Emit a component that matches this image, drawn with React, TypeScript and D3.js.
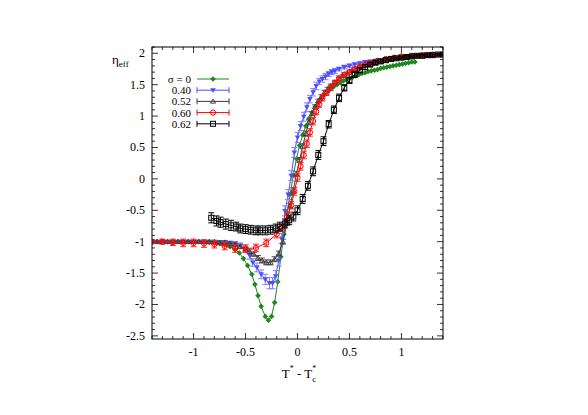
import React from "react";
import * as d3 from "d3";

// sigma = 0 (no error bars)
const greenX = [-1.4, -1.35, -1.3, -1.25, -1.2, -1.15, -1.1, -1.05, -1.0, -0.95, -0.9, -0.85, -0.8, -0.75, -0.7, -0.65, -0.6, -0.56, -0.52, -0.48, -0.44, -0.41, -0.38, -0.35, -0.31, -0.28, -0.25, -0.22, -0.19, -0.16, -0.13, -0.1, -0.07, -0.04, -0.01, 0.02, 0.05, 0.08, 0.11, 0.14, 0.17, 0.2, 0.23, 0.26, 0.29, 0.32, 0.35, 0.38, 0.41, 0.44, 0.47, 0.5, 0.53, 0.56, 0.59, 0.62, 0.65, 0.68, 0.71, 0.74, 0.77, 0.8, 0.83, 0.86, 0.89, 0.92, 0.95, 0.98, 1.01, 1.04, 1.07, 1.1, 1.13];
const greenY = [-1.0, -1.0, -1.0, -1.0, -1.0, -1.0, -1.0, -1.0, -1.0, -1.0, -1.01, -1.01, -1.02, -1.03, -1.05, -1.08, -1.12, -1.18, -1.27, -1.38, -1.52, -1.68, -1.86, -2.03, -2.19, -2.25, -2.19, -1.97, -1.64, -1.24, -0.88, -0.55, -0.24, 0.06, 0.32, 0.53, 0.7, 0.84, 0.96, 1.06, 1.15, 1.22, 1.28, 1.34, 1.39, 1.43, 1.47, 1.5, 1.53, 1.56, 1.58, 1.6, 1.62, 1.64, 1.66, 1.68, 1.69, 1.71, 1.72, 1.73, 1.74, 1.76, 1.77, 1.78, 1.79, 1.8, 1.81, 1.82, 1.83, 1.84, 1.85, 1.86, 1.86];

// sigma = 0.40
const blueX = [-1.4, -1.35, -1.3, -1.25, -1.2, -1.15, -1.1, -1.05, -1.0, -0.95, -0.9, -0.85, -0.8, -0.75, -0.7, -0.65, -0.6, -0.55, -0.5, -0.46, -0.43, -0.39, -0.35, -0.31, -0.27, -0.24, -0.21, -0.18, -0.15, -0.12, -0.09, -0.06, -0.03, 0.0, 0.03, 0.06, 0.09, 0.12, 0.15, 0.18, 0.21, 0.24, 0.27, 0.3, 0.33, 0.36, 0.4, 0.45, 0.5, 0.55, 0.6, 0.65, 0.7, 0.75, 0.8, 0.85, 0.9, 0.95, 1.0, 1.05, 1.1, 1.15, 1.2, 1.25, 1.3, 1.35, 1.4];
const blueY = [-1.0, -1.0, -1.0, -1.0, -1.0, -1.0, -1.0, -1.0, -1.0, -1.0, -1.0, -1.0, -1.0, -1.01, -1.01, -1.02, -1.03, -1.06, -1.12, -1.22, -1.33, -1.41, -1.52, -1.6, -1.66, -1.66, -1.55, -1.3, -0.95, -0.51, -0.25, 0.05, 0.42, 0.66, 0.84, 0.99, 1.14, 1.27, 1.38, 1.48, 1.55, 1.59, 1.63, 1.67, 1.7, 1.72, 1.75, 1.78, 1.8, 1.82, 1.84, 1.86, 1.87, 1.88, 1.89, 1.9, 1.91, 1.92, 1.93, 1.94, 1.95, 1.95, 1.96, 1.96, 1.97, 1.97, 1.97];
const blueE = [0.02, 0.02, 0.02, 0.02, 0.02, 0.02, 0.02, 0.02, 0.02, 0.02, 0.02, 0.02, 0.02, 0.02, 0.02, 0.03, 0.03, 0.04, 0.05, 0.06, 0.06, 0.07, 0.07, 0.08, 0.09, 0.09, 0.09, 0.09, 0.08, 0.08, 0.08, 0.08, 0.08, 0.08, 0.07, 0.07, 0.07, 0.06, 0.06, 0.06, 0.05, 0.05, 0.05, 0.04, 0.04, 0.04, 0.03, 0.03, 0.03, 0.03, 0.02, 0.02, 0.02, 0.02, 0.02, 0.02, 0.02, 0.02, 0.02, 0.02, 0.02, 0.02, 0.02, 0.02, 0.02, 0.02, 0.02];

// sigma = 0.52
const grayX = [-1.4, -1.35, -1.3, -1.25, -1.2, -1.15, -1.1, -1.05, -1.0, -0.95, -0.9, -0.85, -0.8, -0.75, -0.7, -0.65, -0.6, -0.55, -0.5, -0.46, -0.42, -0.38, -0.34, -0.3, -0.26, -0.22, -0.18, -0.14, -0.1, -0.07, -0.04, -0.01, 0.02, 0.05, 0.08, 0.11, 0.14, 0.17, 0.2, 0.23, 0.26, 0.29, 0.32, 0.36, 0.4, 0.44, 0.48, 0.52, 0.56, 0.6, 0.65, 0.7, 0.75, 0.8, 0.85, 0.9, 0.95, 1.0, 1.05, 1.1, 1.15, 1.2, 1.25, 1.3, 1.35, 1.4];
const grayY = [-1.0, -1.0, -1.0, -1.0, -1.0, -1.0, -1.0, -1.0, -1.0, -1.0, -1.0, -1.0, -1.0, -1.01, -1.01, -1.03, -1.05, -1.08, -1.12, -1.16, -1.2, -1.26, -1.3, -1.33, -1.33, -1.28, -1.19, -1.0, -0.7, -0.43, -0.18, 0.08, 0.3, 0.52, 0.72, 0.9, 1.04, 1.15, 1.24, 1.31, 1.38, 1.43, 1.48, 1.54, 1.59, 1.64, 1.68, 1.72, 1.75, 1.78, 1.81, 1.84, 1.86, 1.88, 1.9, 1.91, 1.92, 1.93, 1.94, 1.95, 1.96, 1.96, 1.97, 1.97, 1.98, 1.98];
const grayE = [0.01, 0.01, 0.01, 0.01, 0.01, 0.01, 0.01, 0.01, 0.01, 0.01, 0.01, 0.01, 0.01, 0.02, 0.02, 0.02, 0.02, 0.03, 0.03, 0.03, 0.03, 0.04, 0.04, 0.04, 0.04, 0.04, 0.04, 0.04, 0.04, 0.04, 0.04, 0.04, 0.04, 0.04, 0.04, 0.04, 0.03, 0.03, 0.03, 0.03, 0.03, 0.03, 0.03, 0.02, 0.02, 0.02, 0.02, 0.02, 0.02, 0.02, 0.02, 0.02, 0.02, 0.02, 0.02, 0.02, 0.02, 0.02, 0.02, 0.02, 0.02, 0.02, 0.02, 0.02, 0.02, 0.02];

// sigma = 0.60
const redX = [-1.4, -1.3, -1.2, -1.1, -1.0, -0.9, -0.8, -0.7, -0.6, -0.5, -0.4, -0.3, -0.2, -0.15, -0.1, -0.06, -0.03, 0.0, 0.03, 0.06, 0.09, 0.12, 0.15, 0.18, 0.21, 0.24, 0.28, 0.32, 0.36, 0.4, 0.45, 0.5, 0.55, 0.6, 0.65, 0.7, 0.77, 0.85, 0.93, 1.0, 1.1, 1.2, 1.3, 1.4];
const redY = [-1.0, -1.0, -1.01, -1.02, -1.02, -1.03, -1.04, -1.07, -1.11, -1.11, -1.1, -1.02, -0.88, -0.78, -0.6, -0.42, -0.2, 0.02, 0.2, 0.38, 0.56, 0.74, 0.92, 1.07, 1.19, 1.29, 1.37, 1.45, 1.53, 1.6, 1.66, 1.7, 1.74, 1.78, 1.81, 1.84, 1.88, 1.91, 1.93, 1.95, 1.96, 1.97, 1.98, 1.98];
const redE = [0.03, 0.04, 0.05, 0.06, 0.06, 0.06, 0.06, 0.06, 0.06, 0.06, 0.06, 0.06, 0.06, 0.06, 0.06, 0.06, 0.06, 0.06, 0.06, 0.06, 0.06, 0.06, 0.06, 0.05, 0.05, 0.05, 0.04, 0.04, 0.04, 0.04, 0.03, 0.03, 0.03, 0.03, 0.03, 0.03, 0.02, 0.02, 0.02, 0.02, 0.02, 0.02, 0.02, 0.02];

// sigma = 0.62
const blackX = [-0.83, -0.78, -0.74, -0.69, -0.64, -0.59, -0.55, -0.5, -0.45, -0.4, -0.36, -0.31, -0.26, -0.21, -0.17, -0.12, -0.08, -0.04, 0.0, 0.05, 0.1, 0.15, 0.2, 0.25, 0.3, 0.35, 0.4, 0.45, 0.5, 0.55, 0.6, 0.65, 0.7, 0.75, 0.8, 0.85, 0.9, 0.95, 1.0, 1.05, 1.1, 1.15, 1.2, 1.25, 1.3, 1.35, 1.4];
const blackY = [-0.62, -0.67, -0.69, -0.72, -0.74, -0.76, -0.79, -0.8, -0.81, -0.82, -0.82, -0.82, -0.81, -0.79, -0.76, -0.71, -0.66, -0.6, -0.5, -0.32, -0.11, 0.12, 0.38, 0.6, 0.87, 1.1, 1.29, 1.45, 1.57, 1.66, 1.73, 1.78, 1.82, 1.85, 1.87, 1.89, 1.91, 1.92, 1.93, 1.94, 1.95, 1.96, 1.96, 1.97, 1.97, 1.98, 1.98];
const blackE = [0.08, 0.08, 0.08, 0.08, 0.08, 0.07, 0.07, 0.07, 0.07, 0.07, 0.07, 0.07, 0.07, 0.07, 0.07, 0.07, 0.07, 0.07, 0.07, 0.07, 0.07, 0.07, 0.07, 0.07, 0.06, 0.06, 0.06, 0.05, 0.05, 0.04, 0.04, 0.04, 0.03, 0.03, 0.03, 0.03, 0.03, 0.02, 0.02, 0.02, 0.02, 0.02, 0.02, 0.02, 0.02, 0.02, 0.02];

const legendLabels = ["σ = 0", "0.40", "0.52", "0.60", "0.62"];
const xMajor = [-1, -0.5, 0, 0.5, 1];
const yMajor = [-2.5, -2, -1.5, -1, -0.5, 0, 0.5, 1, 1.5, 2];

const W = 588;
const H = 415;
const left = 152;
const right = 443;
const top = 47;
const bottom = 339;
const serif = "Liberation Serif";

type Series = {
  xs: number[];
  ys: number[];
  es: number[] | null;
  color: string;
  barColor: string;
  marker: string;
};

const series: Series[] = [
  { xs: greenX, ys: greenY, es: null, color: "#1e871e", barColor: "#1e871e", marker: "diamond" },
  { xs: blueX, ys: blueY, es: blueE, color: "#4d4dff", barColor: "#8080ff", marker: "tridown" },
  { xs: grayX, ys: grayY, es: grayE, color: "#3a3a3a", barColor: "#555555", marker: "triup" },
  { xs: redX, ys: redY, es: redE, color: "#ff0000", barColor: "#ff2020", marker: "circle" },
  { xs: blackX, ys: blackY, es: blackE, color: "#000000", barColor: "#000000", marker: "square" },
];

function Marker({ kind, x, y, color }: { kind: string; x: number; y: number; color: string }) {
  if (kind === "diamond")
    return <path d={`M${x},${y - 2.8}L${x + 2.8},${y}L${x},${y + 2.8}L${x - 2.8},${y}Z`} fill={color} />;
  if (kind === "tridown")
    return <path d={`M${x - 2.8},${y - 2}L${x + 2.8},${y - 2}L${x},${y + 2.8}Z`} fill={color} />;
  if (kind === "triup")
    return <path d={`M${x - 2.5},${y + 1.8}L${x + 2.5},${y + 1.8}L${x},${y - 2.4}Z`} fill="none" stroke={color} strokeWidth={0.9} />;
  if (kind === "circle")
    return <circle cx={x} cy={y} r={2.6} fill="none" stroke={color} strokeWidth={1} />;
  return <rect x={x - 2.5} y={y - 2.5} width={5} height={5} fill="none" stroke={color} strokeWidth={1} />;
}

export default function App() {
  const x = d3.scaleLinear().domain([-1.4, 1.4]).range([left, right]);
  const y = d3.scaleLinear().domain([-2.55, 2.1]).range([bottom, top]);

  const xMinor = d3.range(-14, 15).map((v) => v / 10);
  const yMinor = d3.range(-25, 22).map((v) => v / 10);
  const isMajor = (v: number, majors: number[]) => majors.some((m) => Math.abs(m - v) < 1e-6);

  const seriesPath = (s: Series) =>
    d3
      .line<number>()
      .x((_, i) => x(s.xs[i]))
      .y((d) => y(d))(s.ys) || "";

  return (
    <svg width={W} height={H} style={{ position: "absolute", left: 0, top: 0, background: "#fff" }}>
      <defs>
        <clipPath id="plot">
          <rect x={left} y={top} width={right - left} height={bottom - top} />
        </clipPath>
      </defs>

      {/* ticks on all four sides */}
      {xMinor.map((v) => {
        const len = isMajor(v, xMajor) ? 6 : 3;
        return (
          <g key={"xt" + v} stroke="#000" strokeWidth={0.8}>
            <line x1={x(v)} x2={x(v)} y1={bottom} y2={bottom - len} />
            <line x1={x(v)} x2={x(v)} y1={top} y2={top + len} />
          </g>
        );
      })}
      {yMinor.map((v) => {
        const len = isMajor(v, yMajor) ? 6 : 3;
        return (
          <g key={"yt" + v} stroke="#000" strokeWidth={0.8}>
            <line x1={left} x2={left + len} y1={y(v)} y2={y(v)} />
            <line x1={right} x2={right - len} y1={y(v)} y2={y(v)} />
          </g>
        );
      })}

      {xMajor.map((v) => (
        <text key={"xl" + v} x={x(v)} y={bottom + 17} fontSize={12} fontFamily={serif} textAnchor="middle">
          {v}
        </text>
      ))}
      {yMajor.map((v) => (
        <text key={"yl" + v} x={left - 7} y={y(v) + 4} fontSize={12} fontFamily={serif} textAnchor="end">
          {v}
        </text>
      ))}

      {/* axis titles */}
      <text x={112} y={64} fontSize={13} fontFamily={serif}>
        η<tspan fontSize={9} dy={3}>eff</tspan>
      </text>
      <text x={299} y={378} fontSize={13} fontFamily={serif} textAnchor="middle">
        T<tspan fontSize={8} dy={-7}>*</tspan>
        <tspan dy={7}> - T</tspan>
        <tspan fontSize={8} dy={-7}>*</tspan>
        <tspan fontSize={9} dx={-4} dy={11}>c</tspan>
      </text>

      {/* data */}
      <g clipPath="url(#plot)">
        {series.map((s, si) => (
          <g key={"s" + si}>
            <path d={seriesPath(s)} fill="none" stroke={s.color} strokeWidth={1} />
            {s.es &&
              s.ys.map((v, i) => {
                const px = x(s.xs[i]);
                const y1 = y(v - s.es![i]);
                const y2 = y(v + s.es![i]);
                return (
                  <g key={"e" + i} stroke={s.barColor} strokeWidth={1}>
                    <line x1={px} x2={px} y1={y1} y2={y2} />
                    <line x1={px - 3} x2={px + 3} y1={y1} y2={y1} />
                    <line x1={px - 3} x2={px + 3} y1={y2} y2={y2} />
                  </g>
                );
              })}
            {s.ys.map((v, i) => (
              <Marker key={"m" + i} kind={s.marker} x={x(s.xs[i])} y={y(v)} color={s.color} />
            ))}
          </g>
        ))}
      </g>

      {/* legend */}
      {series.map((s, i) => {
        const ly = 79 + i * 11.2;
        return (
          <g key={"lg" + i}>
            <text x={191} y={ly + 4} fontSize={11} fontFamily={serif} textAnchor="end">
              {legendLabels[i]}
            </text>
            <line x1={197} x2={229} y1={ly} y2={ly} stroke={s.color} strokeWidth={1} />
            {s.es && (
              <g stroke={s.color} strokeWidth={1}>
                <line x1={197} x2={197} y1={ly - 3} y2={ly + 3} />
                <line x1={229} x2={229} y1={ly - 3} y2={ly + 3} />
              </g>
            )}
            <Marker kind={s.marker} x={213} y={ly} color={s.color} />
          </g>
        );
      })}

      <rect x={left} y={top} width={right - left} height={bottom - top} fill="none" stroke="#000" strokeWidth={1} />
    </svg>
  );
}
